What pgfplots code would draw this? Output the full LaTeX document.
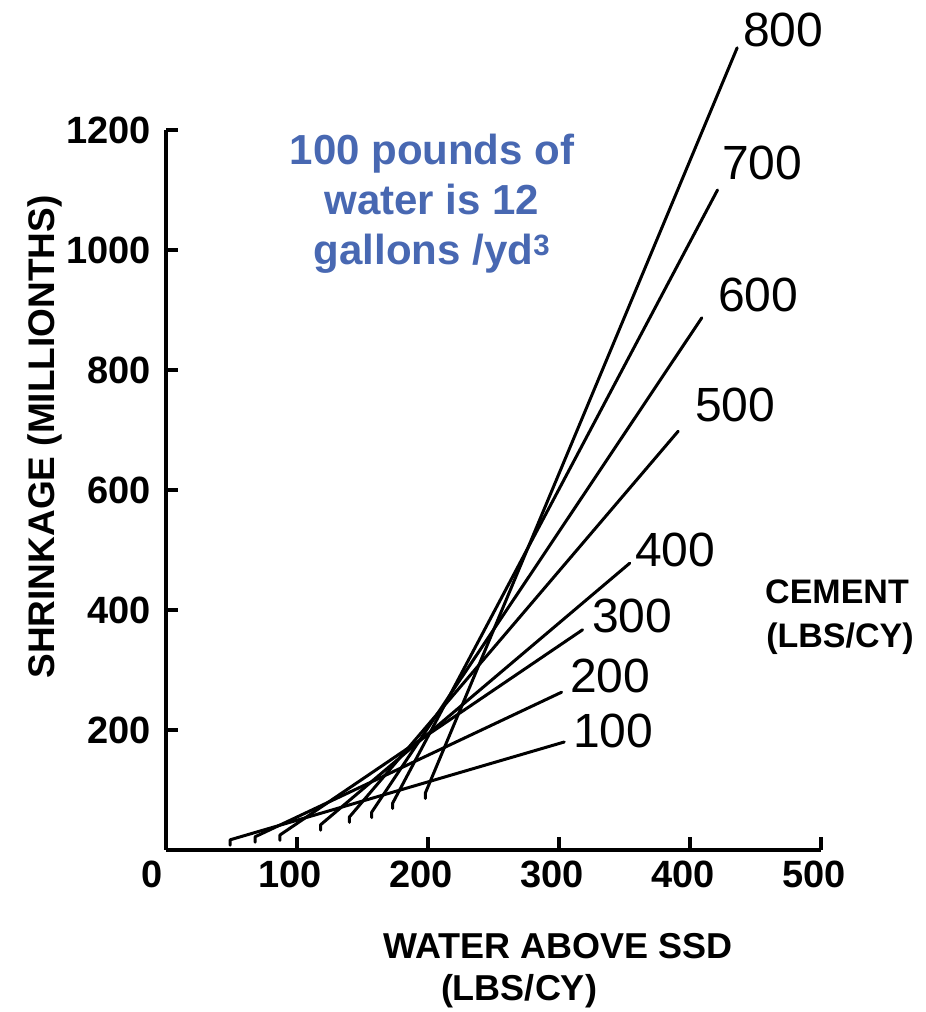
\documentclass[border=0pt]{standalone}
\usepackage{pgfplots}
\pgfplotsset{compat=1.18}
\usepackage{fontspec}
\setmainfont{Liberation Sans}
\definecolor{noteblue}{RGB}{72,104,178}
\begin{document}
\begin{tikzpicture}[
  cline/.style={black, solid, line width=3pt, line join=round, line cap=round, mark=none}]
\path[use as bounding box] (0pt,0pt) rectangle (926pt,1012pt);
\begin{axis}[
  at={(166pt,162pt)}, anchor=south west,
  scale only axis, width=655pt, height=720pt,
  xmin=0, xmax=500, ymin=0, ymax=1200,
  axis x line*=bottom, axis y line*=left,
  axis line style={line width=3.6pt, black},
  xtick={100,200,...,500}, ytick={200,400,...,1200},
  extra x ticks={0},
  extra x tick style={xticklabel style={xshift=-7pt}},
  xtick align=inside, ytick align=inside,
  major tick length=12pt,
  xtick style={line width=3.4pt, black},
  ytick style={line width=3.4pt, black},
  /pgf/number format/assume math mode=true,
  /pgf/number format/1000 sep={},
  xticklabel style={font=\fontsize{38}{38}\selectfont\bfseries, anchor=base, yshift=-38pt, xshift=-7pt, inner sep=0pt},
  yticklabel style={font=\fontsize{38}{38}\selectfont\bfseries, anchor=east, xshift=-15pt, inner sep=0pt},
  clip=false,
]
% tick marks on the water axis (pointing up into the plot)
\pgfplotsinvokeforeach{100,200,300,400,500}{
  \draw[line width=3.4pt, black] (axis cs:#1,0) -- ++(0pt,13pt);
}
% cement 100 ... 800 lbs/cy
\addplot[cline] coordinates {(49,8)  (49,17) (304,180)};
\addplot[cline] coordinates {(68,13) (68,22) (302,263)};
\addplot[cline] coordinates {(87,16) (87,25) (318,367)};
\addplot[cline] coordinates {(118,33) (118,42) (354,478)};
\addplot[cline] coordinates {(140,46) (140,55) (391,698)};
\addplot[cline] coordinates {(157,54) (157,63) (409,887)};
\addplot[cline] coordinates {(173,69) (173,78) (421,1100)};
\addplot[cline] coordinates {(198,86) (198,95) (436,1337)};
\end{axis}
\begin{scope}[x=1pt,y=1pt]
% curve labels
\begin{scope}[every node/.style={anchor=base west, inner sep=0pt, font=\fontsize{48}{48}\selectfont}]
\node at (743,965) {800};
\node at (722,832) {700};
\node at (718,700) {600};
\node at (695,590) {500};
\node at (635,445) {400};
\node at (592,379) {300};
\node at (570,319) {200};
\node at (573,264) {100};
\end{scope}
\node[anchor=base, inner sep=0pt, font=\fontsize{34}{34}\selectfont\bfseries] at (837,408) {CEMENT};
\node[anchor=base, inner sep=0pt, font=\fontsize{34}{34}\selectfont\bfseries] at (840,364) {(LBS/CY)};
% axis titles
\node[rotate=90, inner sep=0pt, font=\fontsize{37}{37}\selectfont\bfseries] at (45,575) {SHRINKAGE (MILLIONTHS)};
\node[anchor=base, inner sep=0pt, font=\fontsize{36}{36}\selectfont\bfseries] at (558,53) {WATER ABOVE SSD};
\node[anchor=base, inner sep=0pt, font=\fontsize{36}{36}\selectfont\bfseries] at (519,12) {(LBS/CY)};
% note
\begin{scope}[every node/.style={anchor=base, inner sep=0pt, text=noteblue, font=\fontsize{42}{42}\selectfont\bfseries}]
\node at (432,847) {100 pounds of};
\node at (432,797) {water is 12};
\node at (432,747) {gallons /yd\textsuperscript{3}};
\end{scope}
\end{scope}
\end{tikzpicture}
\end{document}
